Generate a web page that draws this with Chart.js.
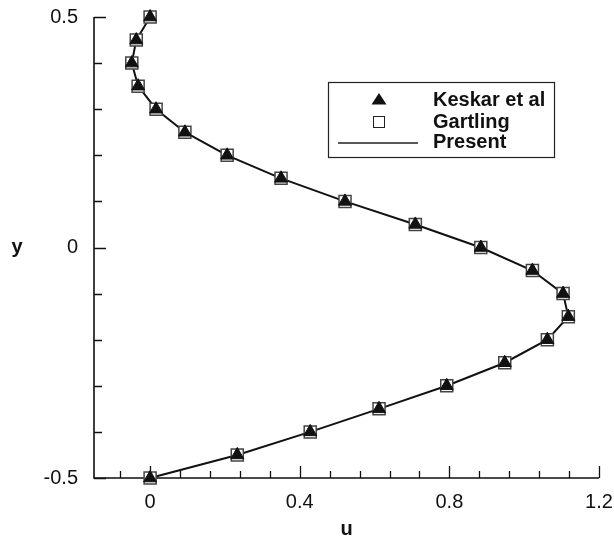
<!DOCTYPE html>
<html>
<head>
<meta charset="utf-8">
<script src="https://cdn.jsdelivr.net/npm/chart.js@4/dist/chart.umd.min.js"></script>
<style>
  html, body { margin: 0; padding: 0; background: #fff; }
  #wrap { position: relative; width: 614px; height: 538px; }
</style>
</head>
<body>
<div id="wrap"><canvas id="c" width="614" height="538"></canvas></div>
<script>
// Velocity profile u(y) across the channel
const yLevels    = [0.5, 0.45, 0.4, 0.35, 0.3, 0.25, 0.2, 0.15, 0.1, 0.05, 0, -0.05, -0.1, -0.15, -0.2, -0.25, -0.3, -0.35, -0.4, -0.45, -0.5];
const keskarU    = [0, -0.037, -0.049, -0.032, 0.016, 0.093, 0.206, 0.350, 0.521, 0.709, 0.884, 1.022, 1.104, 1.118, 1.062, 0.948, 0.793, 0.612, 0.428, 0.233, 0];
const gartlingU  = [0, -0.037, -0.049, -0.032, 0.016, 0.093, 0.206, 0.350, 0.521, 0.709, 0.884, 1.022, 1.104, 1.118, 1.062, 0.948, 0.793, 0.612, 0.428, 0.233, 0];
const presentU   = [0, -0.037, -0.049, -0.032, 0.016, 0.093, 0.206, 0.350, 0.521, 0.709, 0.884, 1.022, 1.104, 1.118, 1.062, 0.948, 0.793, 0.612, 0.428, 0.233, 0];

const seriesNames = ['Keskar et al', 'Gartling', 'Present'];
const xMajorTicks = [0, 0.4, 0.8, 1.2];
const yMajorTicks = [-0.5, 0, 0.5];
const xTickLabels = ['0', '0.4', '0.8', '1.2'];
const yTickLabels = ['-0.5', '0', '0.5'];
const xRange = [-0.15, 1.2];
const yRange = [-0.5, 0.5];
const xMinorStep = 0.08;
const yMinorStep = 0.1;
const xTitle = 'u';
const yTitle = 'y';

const toPoints = (us) => us.map((u, i) => ({ x: u, y: yLevels[i] }));

const FONT = '"Liberation Sans", Arial, Helvetica, sans-serif';

// Axis lines with inward major/minor ticks, plus the unrotated axis titles
const axesPlugin = {
  id: 'axesPlugin',
  beforeDatasetsDraw(chart) {
    const { ctx, chartArea: a, scales: { x, y } } = chart;
    ctx.save();
    ctx.strokeStyle = '#111';
    ctx.lineWidth = 1.6;
    ctx.beginPath();
    ctx.moveTo(a.left, a.top);
    ctx.lineTo(a.left, a.bottom);
    ctx.lineTo(a.right, a.bottom);
    ctx.stroke();

    ctx.lineWidth = 1.3;
    ctx.beginPath();
    // y ticks
    for (let v = yRange[0]; v <= yRange[1] + 1e-9; v += yMinorStep) {
      const isMajor = yMajorTicks.some(m => Math.abs(m - v) < 1e-6);
      const py = Math.round(y.getPixelForValue(v)) + 0.5;
      ctx.moveTo(a.left, py);
      ctx.lineTo(a.left + (isMajor ? 12 : 8), py);
    }
    // x ticks
    const xStart = Math.ceil((xRange[0] - 1e-9) / xMinorStep) * xMinorStep;
    for (let v = xStart; v <= xRange[1] + 1e-9; v += xMinorStep) {
      const isMajor = xMajorTicks.some(m => Math.abs(m - v) < 1e-6);
      const px = Math.round(x.getPixelForValue(v)) + 0.5;
      ctx.moveTo(px, a.bottom);
      ctx.lineTo(px, a.bottom - (isMajor ? 12 : 7));
    }
    ctx.stroke();

    ctx.fillStyle = '#111';
    ctx.font = 'bold 20px ' + FONT;
    ctx.textAlign = 'center';
    ctx.textBaseline = 'alphabetic';
    ctx.fillText(yTitle, 17, 253);
    ctx.fillText(xTitle, (a.left + a.right) / 2, 535);
    ctx.restore();
  },
  afterDraw(chart) {
    const { ctx } = chart;
    ctx.save();
    // legend box
    const bx = 328.5, by = 82.5, bw = 226, bh = 75;
    ctx.strokeStyle = '#222';
    ctx.lineWidth = 1.2;
    ctx.fillStyle = '#fff';
    ctx.fillRect(bx, by, bw, bh);
    ctx.strokeRect(bx, by, bw, bh);

    // triangle
    ctx.fillStyle = '#111';
    ctx.beginPath();
    ctx.moveTo(379, 93);
    ctx.lineTo(386.5, 104.5);
    ctx.lineTo(371.5, 104.5);
    ctx.closePath();
    ctx.fill();
    // square
    ctx.strokeStyle = '#222';
    ctx.lineWidth = 1;
    ctx.strokeRect(373.5, 116.5, 11, 11);
    // line
    ctx.lineWidth = 1.6;
    ctx.beginPath();
    ctx.moveTo(338, 143);
    ctx.lineTo(418, 143);
    ctx.stroke();

    ctx.fillStyle = '#111';
    ctx.font = 'bold 20px ' + FONT;
    ctx.textAlign = 'left';
    ctx.textBaseline = 'alphabetic';
    const baselines = [106, 128, 148];
    seriesNames.forEach((n, i) => ctx.fillText(n, 433, baselines[i]));
    ctx.restore();
  }
};

new Chart(document.getElementById('c'), {
  type: 'scatter',
  data: {
    datasets: [
      {
        label: seriesNames[0],
        data: toPoints(keskarU),
        pointStyle: 'triangle',
        pointRadius: 7.5,
        backgroundColor: '#111',
        borderColor: '#111',
        borderWidth: 1,
        clip: false,
        order: 1
      },
      {
        label: seriesNames[1],
        data: toPoints(gartlingU),
        pointStyle: 'rect',
        pointRadius: 8.5,
        backgroundColor: '#fff',
        borderColor: '#444',
        borderWidth: 1.5,
        clip: false,
        order: 2
      },
      {
        label: seriesNames[2],
        data: toPoints(presentU),
        showLine: true,
        tension: 0,
        pointRadius: 0,
        borderColor: '#111',
        borderWidth: 2,
        clip: false,
        order: 3
      }
    ]
  },
  options: {
    responsive: false,
    animation: false,
    events: [],
    layout: { padding: { left: 0, right: 15, top: 17, bottom: 0 } },
    plugins: { legend: { display: false }, tooltip: { enabled: false } },
    scales: {
      x: {
        type: 'linear',
        min: xRange[0],
        max: xRange[1],
        grid: { display: false, drawTicks: false },
        border: { display: false },
        afterBuildTicks: (s) => { s.ticks = xMajorTicks.map(v => ({ value: v })); },
        afterFit: (s) => { s.height = 60; s.paddingLeft = 0; s.paddingRight = 0; },
        ticks: {
          padding: 12,
          color: '#111',
          font: { family: FONT, size: 20 },
          maxRotation: 0,
          callback: (v) => xTickLabels[xMajorTicks.findIndex(m => Math.abs(m - v) < 1e-6)]
        }
      },
      y: {
        type: 'linear',
        min: yRange[0],
        max: yRange[1],
        grid: { display: false, drawTicks: false },
        border: { display: false },
        afterBuildTicks: (s) => { s.ticks = yMajorTicks.map(v => ({ value: v })); },
        afterFit: (s) => { s.width = 94; s.paddingTop = 0; s.paddingBottom = 0; },
        ticks: {
          padding: 16,
          color: '#111',
          font: { family: FONT, size: 20 },
          callback: (v) => yTickLabels[yMajorTicks.findIndex(m => Math.abs(m - v) < 1e-6)]
        }
      }
    }
  },
  plugins: [axesPlugin]
});
</script>
</body>
</html>
